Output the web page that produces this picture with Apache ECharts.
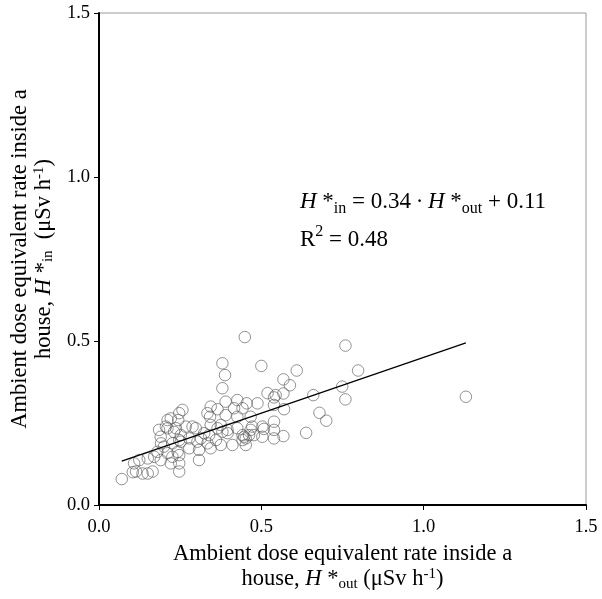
<!DOCTYPE html>
<html>
<head>
<meta charset="utf-8">
<script src="https://cdn.jsdelivr.net/npm/echarts@6/dist/echarts.min.js"></script>
<style>html,body{margin:0;padding:0;background:#fff;}#c{width:602px;height:599px;}</style>
</head>
<body>
<div id="c"></div>
<script>
// H*out values (µSv/h)
var outVals = [
0.449,0.759,0.500,0.609,0.798,0.568,0.588,0.568,0.660,0.749,0.759,1.130,0.539,0.570,0.679,0.700,0.539,0.508,0.467,0.638,0.568,0.477,0.452,
0.380,0.388,0.221,0.244,0.342,0.365,0.416,0.442,0.426,0.185,0.211,0.237,0.267,0.298,0.190,0.365,0.380,0.396,0.442,0.452,0.314,0.339,0.252,0.226,0.308,0.200,0.180,0.226,0.247,0.170,0.190,0.221,0.247,0.150,0.124,0.108,0.114,0.134,0.165,0.070,0.252,0.104,0.150,
0.380,0.257,0.247,0.344,0.390,0.426,0.455,0.488,0.519,0.544,0.539,0.211,0.334,0.390,0.467,0.288,0.344,0.375,0.426,0.472,0.503,0.539,0.231,0.324,0.206,0.191,0.247,0.278,0.303,0.334,0.360,0.396,0.447,0.411,0.442,0.462,0.503,0.539,0.278,0.308,0.242,0.211,0.247,0.344,0.375
];
// H*in values (µSv/h)
var inVals = [
0.512,0.486,0.424,0.410,0.410,0.383,0.365,0.340,0.335,0.361,0.322,0.330,0.328,0.292,0.281,0.257,0.254,0.232,0.229,0.220,0.210,0.213,0.183,
0.432,0.396,0.264,0.259,0.269,0.292,0.295,0.295,0.269,0.229,0.234,0.234,0.239,0.234,0.208,0.234,0.223,0.229,0.213,0.203,0.203,0.213,0.193,0.188,0.168,0.178,0.162,0.147,0.152,0.147,0.137,0.127,0.102,0.142,0.137,0.127,0.102,0.096,0.102,0.079,0.213,0.100,0.096,
0.356,0.290,0.280,0.300,0.315,0.320,0.310,0.310,0.341,0.335,0.305,0.259,0.280,0.274,0.269,0.239,0.244,0.244,0.234,0.239,0.239,0.229,0.223,0.219,0.239,0.188,0.198,0.203,0.193,0.188,0.198,0.219,0.208,0.183,0.198,0.213,0.208,0.203,0.173,0.137,0.162,0.158,0.127,0.173,0.183
];
// regression line end points
var fitX = [0.07, 1.13];
var fitY = [0.134, 0.494];
var tickLabels = ['0.0', '0.5', '1.0', '1.5'];

var pts = outVals.map(function (v, i) { return [v, inVals[i]]; });
var fitPts = fitX.map(function (v, i) { return [v, fitY[i]]; });

var FF = 'Liberation Serif, Times New Roman, serif';
function rich(fs) {
  return {
    i: { fontFamily: FF, fontStyle: 'italic', fontSize: fs, color: '#000' },
    n: { fontFamily: FF, fontSize: fs, color: '#000' },
    sub: { fontFamily: FF, fontSize: Math.round(fs * 0.68), color: '#000', verticalAlign: 'bottom' },
    sup: { fontFamily: FF, fontSize: Math.round(fs * 0.68), color: '#000', verticalAlign: 'top' }
  };
}
function tickFmt(v) {
  var idx = Math.round(v / 0.5);
  return tickLabels[idx] !== undefined ? tickLabels[idx] : '';
}

var chart = echarts.init(document.getElementById('c'), null, { renderer: 'canvas' });
chart.setOption({
  animation: false,
  backgroundColor: '#fff',
  grid: { left: 98, right: 16, top: 13, bottom: 94, show: true, borderColor: '#999', borderWidth: 1, backgroundColor: 'transparent' },
  xAxis: {
    type: 'value', min: 0, max: 1.5, interval: 0.5,
    axisLine: { show: true, lineStyle: { color: '#000', width: 2 } },
    axisTick: { show: true, inside: false, length: 5, lineStyle: { color: '#000', width: 1 } },
    axisLabel: { formatter: tickFmt, fontFamily: FF, fontSize: 18.5, color: '#000', margin: 13 },
    splitLine: { show: false },
    name: 'Ambient dose equivalent rate inside a\nhouse, {i|H} *{sub|out} (μSv h{sup|-1})',
    nameLocation: 'middle', nameGap: 37,
    nameTextStyle: { fontFamily: FF, fontSize: 22.5, color: '#000', lineHeight: 25, rich: rich(22.5) }
  },
  yAxis: {
    type: 'value', min: 0, max: 1.5, interval: 0.5,
    axisLine: { show: true, lineStyle: { color: '#000', width: 2 } },
    axisTick: { show: true, inside: false, length: 5, lineStyle: { color: '#000', width: 1 } },
    axisLabel: { formatter: tickFmt, fontFamily: FF, fontSize: 18.5, color: '#000', margin: 9 },
    splitLine: { show: false },
    name: 'Ambient dose equivalent rate inside a\nhouse, {i|H} *{sub|in}  (μSv h{sup|-1})',
    nameLocation: 'middle', nameGap: 42,
    nameTextStyle: { fontFamily: FF, fontSize: 22.5, color: '#000', lineHeight: 24, rich: rich(22.5) }
  },
  graphic: [{
    type: 'text', left: 300, top: 186, z: 10,
    style: {
      text: '{i|H} *{sub|in} = 0.34\u2009·\u2009{i|H} *{sub|out} + 0.11',
      fontFamily: FF, fontSize: 23, fill: '#000', lineHeight: 31,
      rich: rich(23)
    }
  }, {
    type: 'text', left: 300, top: 224, z: 10,
    style: {
      text: 'R{sup|2} = 0.48',
      fontFamily: FF, fontSize: 23, fill: '#000', lineHeight: 31,
      rich: rich(23)
    }
  }],
  series: [{
    type: 'scatter', data: pts, symbol: 'circle', symbolSize: 11.5,
    itemStyle: { color: 'rgba(0,0,0,0)', borderColor: '#555', borderWidth: 0.8 },
    emphasis: { disabled: true }, z: 2
  }, {
    type: 'line', data: fitPts, symbol: 'none',
    lineStyle: { color: '#000', width: 1.3 }, z: 3, silent: true
  }]
});
</script>
</body>
</html>
